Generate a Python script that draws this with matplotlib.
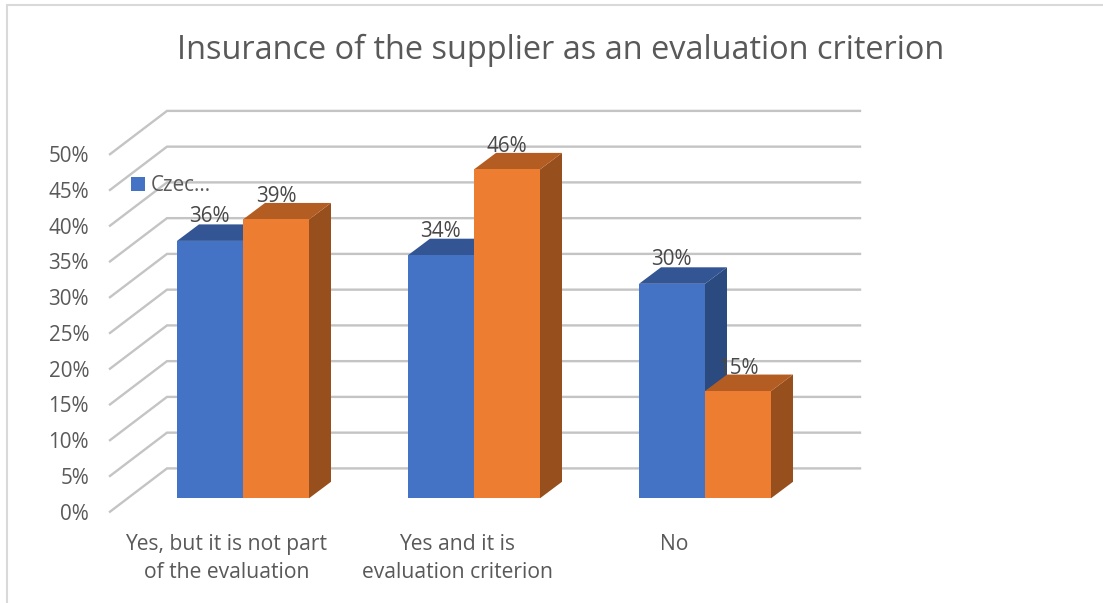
import matplotlib
matplotlib.use("Agg")
import matplotlib.pyplot as plt
from matplotlib.patches import Polygon, Rectangle

title = "Insurance of the supplier as an evaluation criterion"
categories = ["Yes, but it is not part\nof the evaluation", "Yes and it is\nevaluation criterion", "No"]
series_a = [36, 34, 30]
series_b = [39, 46, 15]
ticks = [0, 5, 10, 15, 20, 25, 30, 35, 40, 45, 50]
legend_label = "Czec..."

W, H = 1103, 603
PX_X = 231.0      # pixels per category
PX_Y = 7.15       # pixels per percent
X0, Y0 = 243.0, 498.3   # pixel of category 0 centre / bar base

plt.rcParams["font.family"] = ["Open Sans", "DejaVu Sans"]
fig = plt.figure(figsize=(W / 100, H / 100), dpi=100, facecolor="white")
ax = fig.add_axes([0, 0, 1, 1])
ax.set_xlim((0 - X0) / PX_X, (W - X0) / PX_X)
ax.set_ylim((Y0 - H) / PX_Y, (Y0 - 0) / PX_Y)
ax.axis("off")

def dx(p): return p / PX_X
def dy(p): return p / PX_Y
def fx(p): return (p - X0) / PX_X
def fy(p): return (Y0 - p) / PX_Y

# chart frame (only top and left visible)
ax.plot([fx(7), fx(7), ax.get_xlim()[1]], [ax.get_ylim()[0], fy(5), fy(5)],
        color="#D9D9D9", lw=1.5, solid_joinstyle="miter", zorder=1)

# gridlines: diagonal side wall + back wall
wall_dx, wall_dy = dx(57), dy(43.3)
base_front = fy(511.7)
for t in ticks:
    y = base_front + t
    ax.plot([fx(110), fx(110) + wall_dx, fx(860)], [y, y + wall_dy, y + wall_dy],
            color="#C4C4C4", lw=1.7, solid_joinstyle="miter", zorder=2)
    ax.text(fx(89), y - dy(2.5), f"{t}%", ha="right", va="center",
            fontsize=14.9, color="#595959", zorder=6)

bar_w = 66 / PX_X
depth_x, depth_y = dx(22), dy(16.5)

def bar(x, v, front, top, side, z):
    ax.add_patch(Polygon([(x + bar_w, 0), (x + bar_w + depth_x, depth_y),
                          (x + bar_w + depth_x, v + depth_y), (x + bar_w, v)],
                         closed=True, fc=side, ec="none", zorder=z))
    ax.add_patch(Polygon([(x, v), (x + depth_x, v + depth_y),
                          (x + bar_w + depth_x, v + depth_y), (x + bar_w, v)],
                         closed=True, fc=top, ec="none", zorder=z))
    ax.add_patch(Rectangle((x, 0), bar_w, v, fc=front, ec="none", zorder=z + 0.1))

label_shift = [-16.5, -17, -31]
for i, (a, b) in enumerate(zip(series_a, series_b)):
    bar(i - bar_w, a, "#4472C4", "#335593", "#2A4A80", 3)
    bar(i, b, "#ED7D31", "#B45D22", "#97501D", 4)
    ax.text(i - bar_w / 2 - dx(1), a + dy(24), f"{a}%", ha="center", va="center",
            fontsize=14.9, color="#484848", zorder=7)
    ax.text(i + bar_w / 2, b + dy(23), f"{b}%", ha="center", va="center",
            fontsize=14.9, color="#484848", zorder=7)
    ax.text(i + dx(label_shift[i]), fy(534), categories[i], ha="center", va="top",
            fontsize=15.2, color="#595959", linespacing=1.42, zorder=6)

# legend fragment
ax.add_patch(Rectangle((fx(131), fy(191)), dx(14), dy(14), fc="#4472C4", ec="none", zorder=8))
ax.text(fx(151), fy(185.5), legend_label, ha="left", va="center",
        fontsize=14.9, color="#595959", zorder=8)

ax.text(fx(561), fy(50.5), title, ha="center", va="center",
        fontsize=23.4, color="#595959", zorder=8)

fig.savefig("out.png", dpi=100)
